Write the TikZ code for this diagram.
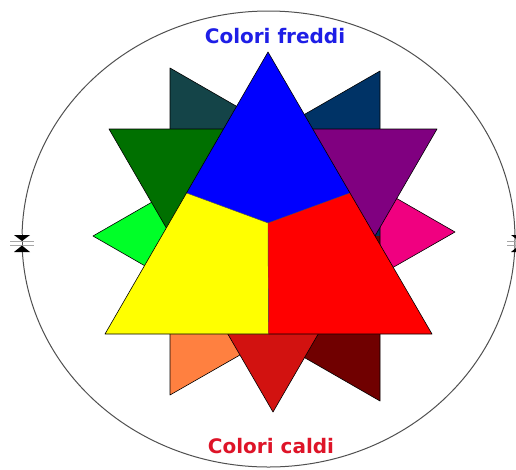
\documentclass[tikz,border=0pt]{standalone}
\usepackage{fontspec}
\usetikzlibrary{calc}
\newfontfamily\lblfont{DejaVu Sans}
\definecolor{cTeal}{RGB}{20,68,72}
\definecolor{cDarkBlue}{RGB}{0,51,102}
\definecolor{cGreen}{RGB}{0,112,0}
\definecolor{cPurple}{RGB}{128,0,128}
\definecolor{cLime}{RGB}{0,255,40}
\definecolor{cPink}{RGB}{240,0,128}
\definecolor{cOrange}{RGB}{255,128,64}
\definecolor{cDarkRed}{RGB}{112,0,0}
\definecolor{cSecRed}{RGB}{210,18,16}
\definecolor{cBlue}{RGB}{0,0,255}
\definecolor{cYellow}{RGB}{255,255,0}
\definecolor{cRed}{RGB}{255,0,0}
\definecolor{cTxtBlue}{RGB}{30,30,230}
\definecolor{cTxtRed}{RGB}{222,20,40}
\definecolor{cRing}{RGB}{80,80,80}
\begin{document}
\begin{tikzpicture}[x=1pt,y=-1pt,
  piece/.style={draw=black, line width=0.6pt, line join=round},
  ringline/.style={draw=cRing, line width=1pt},
  label/.style={font=\lblfont\bfseries\fontsize{20}{24}\selectfont, inner sep=0pt, anchor=base},
  markline/.style={draw=gray!70, line width=0.8pt},
  marktri/.style={fill=black}]
\useasboundingbox (0,0) rectangle (516,469);
\clip (0,0) rectangle (516,469);
\fill[white] (0,0) rectangle (516,469);
% outer ellipse
\draw[ringline] (268.5,239) ellipse [x radius=246.5, y radius=228];
% tertiary triangle A (teal, pink, orange)
\coordinate (aT) at (170,68);
\coordinate (aO) at (170,395);
\coordinate (aP) at (455,232);
\coordinate (aG) at (265,232);
\fill[cTeal] (aT) -- ($(aT)!0.5!(aO)$) -- (aG) -- ($(aT)!0.5!(aP)$) -- cycle;
\fill[cOrange] (aO) -- ($(aO)!0.5!(aP)$) -- (aG) -- ($(aT)!0.5!(aO)$) -- cycle;
\fill[cPink] (aP) -- ($(aT)!0.5!(aP)$) -- (aG) -- ($(aO)!0.5!(aP)$) -- cycle;
\draw[piece] (aT) -- (aO) -- (aP) -- cycle;
% tertiary triangle B (dark blue, lime, dark red)
\coordinate (bB) at (380,71);
\coordinate (bR) at (380,401);
\coordinate (bL) at (93,236);
\coordinate (bG) at (284,236);
\fill[cDarkBlue] (bB) -- ($(bB)!0.5!(bR)$) -- (bG) -- ($(bB)!0.5!(bL)$) -- cycle;
\fill[cDarkRed] (bR) -- ($(bR)!0.5!(bL)$) -- (bG) -- ($(bB)!0.5!(bR)$) -- cycle;
\fill[cLime] (bL) -- ($(bB)!0.5!(bL)$) -- (bG) -- ($(bR)!0.5!(bL)$) -- cycle;
\draw[piece] (bB) -- (bR) -- (bL) -- cycle;
% secondary triangle (green, purple, red)
\coordinate (sG) at (109,129);
\coordinate (sP) at (437,129);
\coordinate (sR) at (273,412);
\coordinate (sC) at (273,223);
\fill[cGreen] (sG) -- ($(sG)!0.5!(sP)$) -- (sC) -- ($(sG)!0.5!(sR)$) -- cycle;
\fill[cPurple] (sP) -- ($(sP)!0.5!(sR)$) -- (sC) -- ($(sG)!0.5!(sP)$) -- cycle;
\fill[cSecRed] (sR) -- ($(sG)!0.5!(sR)$) -- (sC) -- ($(sP)!0.5!(sR)$) -- cycle;
\draw[piece] (sG) -- (sP) -- (sR) -- cycle;
% primary triangle (blue, yellow, red)
\coordinate (pB) at (268,52);
\coordinate (pY) at (105,334);
\coordinate (pR) at (432,334);
\coordinate (pJ) at (268,223);
\fill[cBlue] (pB) -- ($(pB)!0.5!(pY)$) -- (pJ) -- ($(pB)!0.5!(pR)$) -- cycle;
\fill[cYellow] (pY) -- ($(pY)!0.5!(pR)$) -- (pJ) -- ($(pB)!0.5!(pY)$) -- cycle;
\fill[cRed] (pR) -- ($(pB)!0.5!(pR)$) -- (pJ) -- ($(pY)!0.5!(pR)$) -- cycle;
\draw[black!70, line width=0.4pt] ($(pB)!0.5!(pY)$) -- (pJ) -- ($(pB)!0.5!(pR)$);
\draw[black!70, line width=0.4pt] (pJ) -- ($(pY)!0.5!(pR)$);
\draw[piece] (pB) -- (pY) -- (pR) -- cycle;
% labels
\node[label, text=cTxtBlue] (freddi) at (275,43) {Colori freddi};
\node[label, text=cTxtRed] (caldi) at (271,453) {Colori caldi};
% side markers
\fill[white] (10,234) rectangle (34,252);
\draw[ringline] (22,234) -- (22,252);
\draw[markline] (10,241.5) -- (34,241.5);
\draw[markline] (10,245) -- (34,245);
\fill[marktri] (14,235) -- (30,235) -- (22,241) -- cycle;
\fill[marktri] (14,252) -- (30,252) -- (22,245.5) -- cycle;
\draw[markline] (507,241.5) -- (531,241.5);
\draw[markline] (507,245) -- (531,245);
\fill[marktri] (511,235) -- (527,235) -- (519,241) -- cycle;
\fill[marktri] (511,252) -- (527,252) -- (519,245.5) -- cycle;
\end{tikzpicture}
\end{document}
